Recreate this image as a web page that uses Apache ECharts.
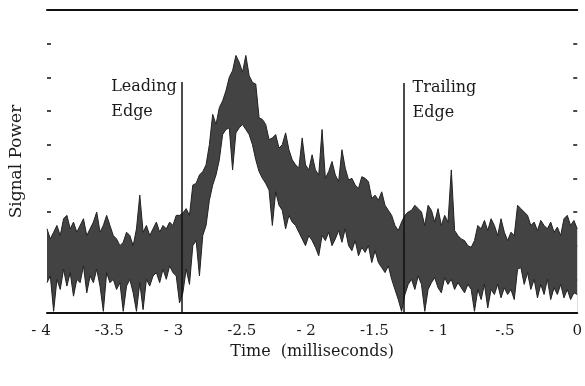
<!DOCTYPE html>
<html>
<head>
    <meta charset="utf-8">
    <script src="https://cdn.jsdelivr.net/npm/echarts@6/dist/echarts.min.js"></script>
    <style>
        html, body { margin: 0; padding: 0; background: #fff; }
        #main { width: 585px; height: 386px; }
    </style>
</head>
<body>
<div id="main"></div>
<script>
    // sample grid (ms), one envelope pair every 0.025 ms
    var sampleStart = -4;
    var sampleStep = 0.025;

    // upper edge of the trace
    var upper = [
        2.5, 2.2, 2.4, 2.6, 2.3, 2.8, 2.9, 2.5, 2.7, 2.4,
        2.6, 2.8, 2.3, 2.5, 2.7, 3.0, 2.4, 2.6, 2.9, 2.6,
        2.3, 2.2, 2.0, 2.1, 2.4, 2.3, 2.0, 2.5, 3.5, 2.4,
        2.6, 2.3, 2.5, 2.7, 2.4, 2.6, 2.5, 2.7, 2.6, 2.9,
        2.9, 2.97, 3.1, 2.9, 3.8, 3.85, 4.1, 4.2, 4.4, 5.0,
        5.9, 5.6, 6.1, 6.3, 6.6, 7.0, 7.2, 7.65, 7.45, 7.15,
        7.65, 7.05, 6.85, 6.8, 5.8, 5.75, 5.6, 5.15, 5.2, 5.3,
        4.9, 5.0, 5.35, 4.85, 4.55, 4.4, 4.3, 5.2, 4.4, 4.25,
        4.7, 4.25, 4.1, 5.45, 4.0, 4.2, 4.5, 4.1, 3.9, 4.85,
        4.3, 3.95, 4.0, 3.8, 3.7, 4.05, 4.0, 3.9, 3.4, 3.5,
        3.35, 3.6, 3.2, 3.05, 2.9, 2.6, 2.45, 2.7, 2.9, 3.0,
        3.05, 3.2, 3.1, 3.0, 2.6, 3.2, 3.05, 2.7, 3.1, 2.6,
        2.9, 2.7, 4.25, 2.45, 2.3, 2.2, 2.15, 2.0, 1.95, 2.15,
        2.6, 2.5, 2.75, 2.45, 2.8, 2.6, 2.3, 2.8, 2.4, 2.15,
        2.4, 2.3, 3.2, 3.1, 3.0, 2.9, 2.6, 2.7, 2.45, 2.75,
        2.6, 2.5, 2.7, 2.4, 2.55, 2.3, 2.8, 2.9, 2.6, 2.75,
        2.5
    ];

    // lower edge of the trace
    var lower = [
        0.9, 1.1, 0.05, 1.0, 0.7, 1.3, 0.8, 1.2, 0.5, 1.0,
        0.9, 1.4, 0.6, 1.1, 0.9, 1.3, 0.8, 0.05, 1.2, 0.9,
        1.0, 0.7, 0.9, 0.05, 0.8, 1.0, 0.6, 0.05, 0.9, 0.1,
        1.0, 0.8, 1.1, 1.2, 0.9, 1.3, 1.0, 1.4, 1.2, 1.1,
        0.3, 0.6, 1.3, 0.85, 2.0, 2.15, 1.1, 2.3, 2.6, 3.35,
        3.8, 4.1, 4.55, 5.3, 5.45, 5.5, 4.25, 5.35, 5.5, 5.6,
        5.45, 5.3, 5.0, 4.55, 4.2, 4.0, 3.85, 3.65, 2.6, 3.6,
        3.2, 3.05, 2.5, 2.9, 2.7, 2.6, 2.4, 2.2, 2.0, 2.3,
        2.15, 1.95, 1.7, 2.3, 2.15, 2.4, 2.0, 2.2, 2.45, 2.1,
        2.5, 2.0, 1.85, 2.15, 1.7, 1.95, 1.8, 2.0, 1.5, 1.85,
        1.5, 1.35, 1.2, 1.4, 1.0, 0.7, 0.4, 0.05, 0.55, 0.85,
        1.0, 0.7, 1.1, 0.85, 0.05, 0.7, 0.9, 1.05, 0.75, 0.6,
        1.05, 0.85, 1.0, 0.7, 0.9, 0.75, 0.6, 0.85, 0.7, 0.05,
        0.7, 0.4, 0.85, 0.15, 0.7, 0.55, 0.85, 0.45, 0.75, 0.55,
        0.7, 0.4, 1.3, 1.35, 0.85, 1.2, 0.7, 1.0, 0.45, 0.85,
        0.55, 1.0, 0.4, 0.75, 0.55, 0.85, 0.45, 0.7, 0.4, 0.6,
        0.55
    ];

    var tickLabels = ['- 4', '-3.5', '- 3', '-2.5', '- 2', '-1.5', '- 1', '-.5', '0'];

    var edgeNames = ['Leading\nEdge', 'Trailing\nEdge'];
    var edgeTimes = [-2.98, -1.31];
    var edgeTops = [6.86, 6.83];

    var hiData = [];
    var loData = [];
    for (var i = 0; i < upper.length; i++) {
        var t = +(sampleStart + i * sampleStep).toFixed(3);
        hiData.push([t, upper[i]]);
        loData.push([t, lower[i]]);
    }

    var edgeLines = [];
    var edgePoints = [];
    for (var j = 0; j < edgeTimes.length; j++) {
        edgeLines.push([{coord: [edgeTimes[j], 0]}, {coord: [edgeTimes[j], edgeTops[j]]}]);
        edgePoints.push({
            value: [edgeTimes[j], edgeTops[j]],
            name: edgeNames[j],
            label: {position: j === 0 ? [-71, -8] : [9, -8]}
        });
    }

    var serif = 'DejaVu Serif';
    var ink = '#1a1a1a';
    var tickStyle = {show: true, inside: true, length: 4, lineStyle: {color: '#111', width: 1.5}};

    var chart = echarts.init(document.getElementById('main'), null, {renderer: 'canvas'});
    chart.setOption({
        animation: false,
        backgroundColor: '#fff',
        grid: {left: 45, right: 3, top: 10, bottom: 73},
        xAxis: [{
            type: 'value',
            min: -4,
            max: 0,
            interval: 0.5,
            z: 5,
            name: 'Time  (milliseconds)',
            nameLocation: 'middle',
            nameGap: 30,
            nameTextStyle: {fontFamily: serif, fontSize: 16, color: ink},
            splitLine: {show: false},
            axisTick: {show: false},
            axisLine: {onZero: false, lineStyle: {color: '#111', width: 2}},
            axisLabel: {
                margin: 11,
                fontFamily: serif,
                fontSize: 15,
                color: ink,
                formatter: function (val, idx) {
                    var s = tickLabels[idx];
                    return s.length === 3 ? '{s|' + s + '}' : (s === '0' ? s : '{l|' + s + '}');
                },
                rich: {
                    s: {fontFamily: serif, fontSize: 15, color: ink, padding: [0, 12, 0, 0]},
                    l: {fontFamily: serif, fontSize: 15, color: ink, padding: [0, 8, 0, 0]}
                }
            }
        }, {
            type: 'value',
            position: 'top',
            min: -4,
            max: 0,
            z: 5,
            axisLabel: {show: false},
            axisTick: {show: false},
            splitLine: {show: false},
            axisLine: {onZero: false, lineStyle: {color: '#111', width: 2}}
        }],
        yAxis: [{
            type: 'value',
            min: 0,
            max: 9,
            interval: 1,
            name: 'Signal Power',
            nameLocation: 'middle',
            nameGap: 22,
            nameTextStyle: {fontFamily: serif, fontSize: 17, color: ink},
            axisLine: {show: false, onZero: false},
            axisTick: tickStyle,
            axisLabel: {show: false},
            splitLine: {show: false}
        }, {
            type: 'value',
            position: 'right',
            min: 0,
            max: 9,
            interval: 1,
            axisLine: {show: false, onZero: false},
            axisTick: tickStyle,
            axisLabel: {show: false},
            splitLine: {show: false}
        }],
        series: [{
            // top of the trace, filled down to the baseline
            name: 'upper',
            type: 'line',
            data: hiData,
            showSymbol: false,
            z: 2,
            lineStyle: {color: '#222', width: 1},
            areaStyle: {color: '#434343', opacity: 1}
        }, {
            // bottom of the trace, white below it
            name: 'lower',
            type: 'line',
            data: loData,
            showSymbol: false,
            z: 3,
            lineStyle: {color: '#222', width: 1},
            areaStyle: {color: '#ffffff', opacity: 1}
        }, {
            name: 'edges',
            type: 'scatter',
            data: edgePoints,
            symbolSize: 0,
            z: 4,
            itemStyle: {color: '#000'},
            label: {
                show: true,
                formatter: '{b}',
                align: 'left',
                verticalAlign: 'top',
                fontFamily: serif,
                fontSize: 16,
                lineHeight: 25,
                color: ink,
                opacity: 1
            },
            markLine: {
                silent: true,
                symbol: 'none',
                label: {show: false},
                lineStyle: {color: '#111', width: 1.5, type: 'solid'},
                data: edgeLines
            }
        }]
    });
</script>
</body>
</html>
